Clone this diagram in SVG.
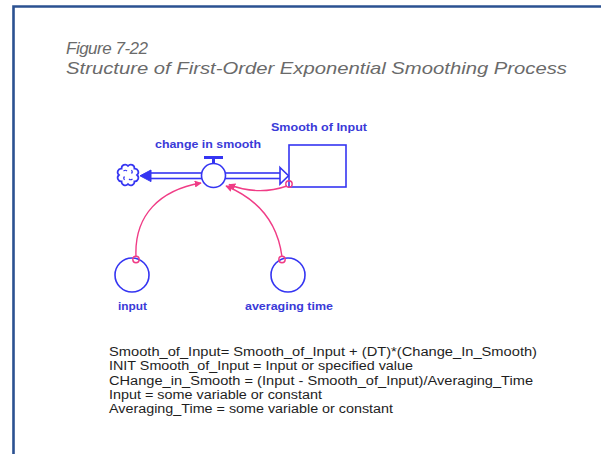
<svg xmlns="http://www.w3.org/2000/svg" width="601" height="454" viewBox="0 0 601 454">
<defs>
<style>
.title{font-family:"Liberation Sans",Arial,sans-serif;font-style:italic;font-size:17px;fill:#6a6a6a}
.lbl{font-family:"Liberation Sans",Arial,sans-serif;font-weight:bold;font-size:11.5px;fill:#3a3ad8}
.eq{font-family:"Liberation Sans",Arial,sans-serif;font-size:12.5px;fill:#1e1e1e}
.blue{stroke:#3535f2;stroke-width:1.6;fill:#fff}
.conn{stroke:#f03c86;stroke-width:1.4;fill:none}
.dot{stroke:#f03c86;stroke-width:1.4;fill:none}
</style>
<marker id="ah" viewBox="0 0 10 10" refX="9" refY="5" markerWidth="7" markerHeight="7" orient="auto" markerUnits="userSpaceOnUse">
<path d="M0,0 L10,5 L0,10 z" fill="#f03c86"/>
</marker>
</defs>
<rect x="0" y="0" width="601" height="454" fill="#fff"/>
<path d="M13.5,454 L13.5,6.5 L601,6.5" fill="none" stroke="#2b5191" stroke-width="2.6"/>

<g id="title">
<text class="title" x="66" y="54" textLength="82" lengthAdjust="spacing">Figure 7-22</text>
<text class="title" x="66" y="74" textLength="501" lengthAdjust="spacingAndGlyphs">Structure of First-Order Exponential Smoothing Process</text>
</g>

<g id="connectors">
<rect class="blue" x="150" y="173" width="52" height="5.5" stroke-width="1.3"/>
<polygon points="140,175.8 151,170 151,181.6" fill="#3535f2" stroke="#3535f2" stroke-width="1"/>
<rect class="blue" x="225" y="173" width="56" height="5.5" stroke-width="1.3"/>
<polygon class="blue" points="280,167.5 288.5,175.8 280,184" stroke-width="1.3"/>
<path class="conn" d="M287,186 Q258,196 229,184.5" marker-end="url(#ah)"/>
<path class="conn" d="M136,257 C134,215 160,190 201,183" marker-end="url(#ah)"/>
<path class="conn" d="M282,257 C278,225 260,200 226,186" marker-end="url(#ah)"/>
</g>

<g id="cloud">
<path d="M137,175 A3.6,3.6 0 0 1 134.4,181.4 A3.6,3.6 0 0 1 128,184 A3.6,3.6 0 0 1 121.6,181.4 A3.6,3.6 0 0 1 119,175 A3.6,3.6 0 0 1 121.6,168.6 A3.6,3.6 0 0 1 128,166 A3.6,3.6 0 0 1 134.4,168.6 A3.6,3.6 0 0 1 137,175 z" fill="#fff" stroke="#3535f2" stroke-width="1.7"/>
<path d="M123.5,171 q2,-1.5 3.5,0 M131.5,170 q1.5,2 0,3.5 M132.5,179 q-2,1.5 -3.5,0 M124.5,180 q-1.5,-2 0,-3.5" fill="none" stroke="#3535f2" stroke-width="1.2"/>
</g>

<g id="change-in-smooth">
<rect x="204" y="156" width="19" height="3" fill="#3535f2"/>
<rect x="212" y="158.5" width="3" height="5" fill="#3535f2"/>
<circle class="blue" cx="213.5" cy="175.5" r="12"/>
<text class="lbl" x="155" y="147.5" textLength="106" lengthAdjust="spacingAndGlyphs">change in smooth</text>
</g>

<g id="smooth-of-input">
<rect class="blue" x="289" y="145" width="57" height="42"/>
<circle class="dot" cx="289" cy="184" r="3.2"/>
<text class="lbl" x="271" y="131" textLength="96" lengthAdjust="spacingAndGlyphs">Smooth of Input</text>
</g>

<g id="input">
<circle class="blue" cx="132" cy="275" r="17"/>
<circle class="dot" cx="136" cy="259.5" r="3.2"/>
<text class="lbl" x="118" y="310" textLength="29" lengthAdjust="spacingAndGlyphs">input</text>
</g>

<g id="averaging-time">
<circle class="blue" cx="288" cy="275" r="17"/>
<circle class="dot" cx="282" cy="259.5" r="3.2"/>
<text class="lbl" x="245" y="310" textLength="88" lengthAdjust="spacingAndGlyphs">averaging time</text>
</g>

<g id="equations">
<text class="eq" x="109" y="356" textLength="428" lengthAdjust="spacingAndGlyphs">Smooth_of_Input= Smooth_of_Input + (DT)*(Change_In_Smooth)</text>
<text class="eq" x="109" y="370" textLength="304" lengthAdjust="spacingAndGlyphs">INIT Smooth_of_Input = Input or specified value</text>
<text class="eq" x="109" y="384.5" textLength="424" lengthAdjust="spacingAndGlyphs">CHange_in_Smooth = (Input - Smooth_of_Input)/Averaging_Time</text>
<text class="eq" x="109" y="398.5" textLength="213" lengthAdjust="spacingAndGlyphs">Input = some variable or constant</text>
<text class="eq" x="109" y="412.5" textLength="284" lengthAdjust="spacingAndGlyphs">Averaging_Time = some variable or constant</text>
</g>
</svg>
